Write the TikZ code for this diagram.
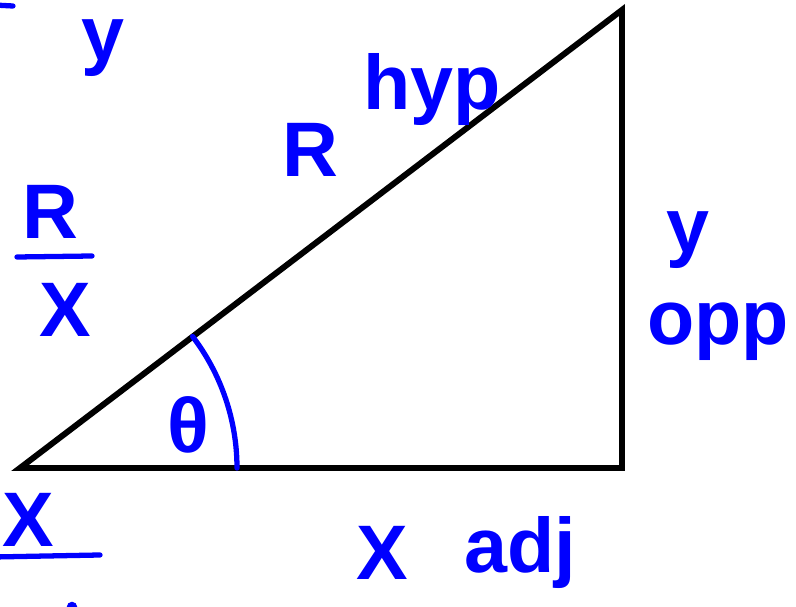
\documentclass[tikz,border=0pt]{standalone}
\usepackage{fontspec}
\setmainfont{Liberation Sans}
\usepackage{tikz}
\usetikzlibrary{positioning}
\definecolor{inkblue}{RGB}{0,0,255}
\definecolor{inkblack}{RGB}{0,0,0}
\tikzset{
  side/.style={draw=inkblack, line width=3.4pt, line join=miter},
  hand/.style={text=inkblue, font=\fontsize{44}{52}\selectfont\bfseries, inner sep=0pt},
  stroke/.style={draw=inkblue, line width=3pt, line cap=round},
  anglemark/.style={draw=inkblue, line width=3pt, line cap=round}
}
\begin{document}
\begin{tikzpicture}[x=0.02cm, y=-0.02cm]
  \useasboundingbox (0,0) rectangle (796,607);
  \coordinate (A) at (20,468);
  \coordinate (B) at (622,468);
  \coordinate (C) at (622,10);
  \draw[side] (A) -- (B) -- (C) -- cycle;
  % angle at A
  \draw[anglemark] ([shift={(-37.3:217)}]A) arc[start angle=-37.3, end angle=0, radius=217];
  \node[hand] (theta) at (188,425) {θ};

  \node[hand] (hypR) at (310,150) {R};
  \node[hand] (hyp) at (432,90) {hyp};
  \node[hand] (oppY) at (688,240) {y};
  \node[hand] (opp) at (718,332) {opp};
  \node[hand] (adjX) at (382,553) {X};
  \node[hand] (adj) at (520,553) {adj};

  % R over X
  \node[hand] (rnum) at (50,212) {R};
  \node[hand] (xden) at (65,310) {X};
  \coordinate (barL) at (17,257);
  \coordinate (barR) at (92,256);
  \draw[stroke] (barL) -- (barR);

  % cut off at the edges
  \node[hand] (ytop) at (103,48) {y};
  \draw[stroke] (-6,5) -- (13,6);
  \node[hand] (xcut) at (28,520) {X};
  \coordinate (cutL) at (-6,557);
  \coordinate (cutR) at (100,555);
  \draw[stroke] (cutL) -- (cutR);
  \fill[inkblue] (72,607) circle[radius=3pt];
\end{tikzpicture}
\end{document}
